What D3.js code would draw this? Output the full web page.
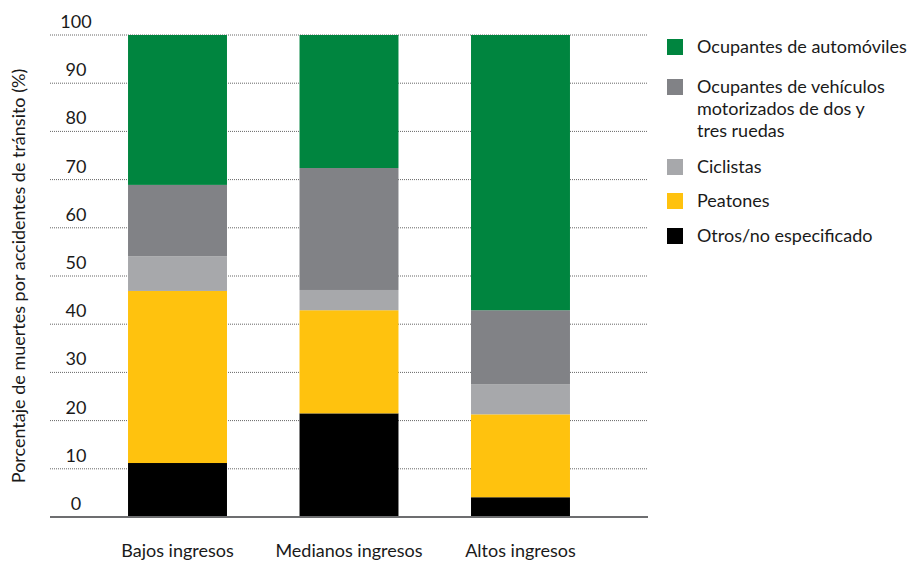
<!DOCTYPE html>
<html>
<head>
<meta charset="utf-8">
<script src="https://cdn.jsdelivr.net/npm/d3@7"></script>
<style>
  body { margin: 0; background: #fff; }
  svg text { font-family: Lato, "Open Sans", sans-serif; fill: #1a1a1a; }
</style>
</head>
<body>
<svg id="chart" width="922" height="563"></svg>
<script>
'use strict';

// Data (percent of road deaths by road user type)
const categories = ['Bajos ingresos', 'Medianos ingresos', 'Altos ingresos'];
const seriesKeys = ['otros', 'peatones', 'ciclistas', 'motos', 'autos'];
const otros = [11.2, 21.5, 4.1];
const peatones = [35.7, 21.4, 17.2];
const ciclistas = [7.2, 4.2, 6.2];
const motos = [14.8, 25.3, 15.4];
const autos = [31.1, 27.6, 57.1];
const yTicks = [0, 10, 20, 30, 40, 50, 60, 70, 80, 90, 100];

const legendItems = [
  { key: 'autos', lines: ['Ocupantes de automóviles'] },
  { key: 'motos', lines: ['Ocupantes de vehículos', 'motorizados de dos y', 'tres ruedas'] },
  { key: 'ciclistas', lines: ['Ciclistas'] },
  { key: 'peatones', lines: ['Peatones'] },
  { key: 'otros', lines: ['Otros/no especificado'] }
];

const palette = {
  autos: '#00853f',
  motos: '#818286',
  ciclistas: '#a7a8ab',
  peatones: '#ffc20e',
  otros: '#000000'
};

const rows = categories.map((c, i) => ({
  cat: c,
  otros: otros[i],
  peatones: peatones[i],
  ciclistas: ciclistas[i],
  motos: motos[i],
  autos: autos[i]
}));

const svg = d3.select('#chart');
const plot = { left: 50, right: 648, top: 35, bottom: 517 };

const x = d3.scaleBand().domain(categories).range([plot.left, plot.right]).paddingInner(0.423).paddingOuter(0.455);
const y = d3.scaleLinear().domain([0, 100]).range([plot.bottom, plot.top]);

// dotted gridlines
svg.append('g')
  .selectAll('line')
  .data(yTicks.filter(d => d > 0))
  .join('line')
  .attr('x1', plot.left)
  .attr('x2', plot.right)
  .attr('y1', d => y(d))
  .attr('y2', d => y(d))
  .attr('stroke', '#666')
  .attr('stroke-width', 1)
  .attr('stroke-dasharray', '1,1');

// tick labels sit above their gridline
svg.append('g')
  .selectAll('text')
  .data(yTicks)
  .join('text')
  .attr('x', 76)
  .attr('y', d => y(d) - 7)
  .attr('text-anchor', 'middle')
  .style('font-size', '18px')
  .text(d => d);

//Stacked bars
const stack = d3.stack().keys(seriesKeys);
const layers = stack(rows);

svg.append('g')
  .selectAll('g')
  .data(layers)
  .join('g')
  .attr('fill', d => palette[d.key])
  .selectAll('rect')
  .data(d => d)
  .join('rect')
  .attr('x', d => x(d.data.cat))
  .attr('width', x.bandwidth())
  .attr('y', d => y(d[1]))
  .attr('height', d => y(d[0]) - y(d[1]));

// baseline
svg.append('line')
  .attr('x1', plot.left)
  .attr('x2', plot.right)
  .attr('y1', y(0))
  .attr('y2', y(0))
  .attr('stroke', '#6d6e70')
  .attr('stroke-width', 2);

// category labels
svg.append('g')
  .selectAll('text')
  .data(categories)
  .join('text')
  .attr('x', d => x(d) + x.bandwidth() / 2)
  .attr('y', 557)
  .attr('text-anchor', 'middle')
  .style('font-size', '18px')
  .text(d => d);

// y axis title
svg.append('text')
  .attr('transform', 'translate(25,' + (plot.top + plot.bottom) / 2 + ') rotate(-90)')
  .attr('text-anchor', 'middle')
  .style('font-size', '18px')
  .text('Porcentaje de muertes por accidentes de tránsito (%)');

// legend
const legendTops = [39, 79, 159, 193, 228];
const legend = svg.append('g')
  .selectAll('g')
  .data(legendItems)
  .join('g')
  .attr('transform', (d, i) => 'translate(667,' + legendTops[i] + ')');

legend.append('rect')
  .attr('width', 16)
  .attr('height', 16)
  .attr('fill', d => palette[d.key]);

legend.append('text')
  .style('font-size', '18px')
  .selectAll('tspan')
  .data(d => d.lines)
  .join('tspan')
  .attr('x', 30)
  .attr('y', (d, i) => 14 + i * 22)
  .text(d => d);
</script>
</body>
</html>
